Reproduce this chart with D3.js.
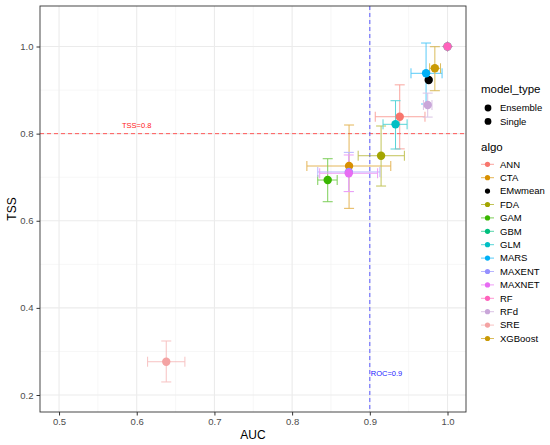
<!DOCTYPE html>
<html><head><meta charset="utf-8">
<script src="https://d3js.org/d3.v7.min.js"></script>
<style>body{margin:0;background:#fff;} svg{display:block;font-family:"Liberation Sans",Arial,Helvetica,sans-serif;}</style>
</head><body><svg id="c" width="550" height="445"></svg>
<script>
const algos = ["ANN","CTA","EMwmean","FDA","GAM","GBM","GLM","MARS","MAXENT","MAXNET","RF","RFd","SRE","XGBoost"];
const colors = ["#F8766D","#D89000","#000000","#A3A500","#39B600","#00BF7D","#00BFC4","#00B0F6","#9590FF","#E76BF3","#FF62BC","#C9A6D9","#F4A3A3","#C99A06"];
const modelType = ["Single","Single","Ensemble","Single","Single","Single","Single","Single","Single","Single","Single","Single","Single","Single"];
const auc   = [0.9385,0.8733,0.9758,0.9145,0.8458,1.0,0.9331,0.9724,0.873,0.8729,1.0,0.9745,0.638,0.9837];
const aucLo = [0.907,0.819,0.9758,0.885,0.833,1.0,0.917,0.953,0.833,0.8355,1.0,0.969,0.614,0.977];
const aucHi = [0.971,0.927,0.9758,0.9445,0.858,1.0,0.948,0.993,0.913,0.910,1.0,0.980,0.662,0.991];
const tss   = [0.8388,0.7257,0.923,0.7493,0.6935,1.0,0.8214,0.9385,0.712,0.709,1.0,0.8657,0.2764,0.950];
const tssLo = [0.765,0.6285,0.923,0.6797,0.6437,1.0,0.7647,0.868,0.667,0.667,1.0,0.838,0.230,0.8985];
const tssHi = [0.912,0.8198,0.923,0.8175,0.7424,1.0,0.8756,1.008,0.757,0.751,1.0,0.893,0.324,0.9995];
const xTicks = [0.5,0.6,0.7,0.8,0.9,1.0];
const xMinor = [0.55,0.65,0.75,0.85,0.95];
const yTicks = [0.2,0.4,0.6,0.8,1.0];
const yMinor = [0.3,0.5,0.7,0.9];
const tssLine = 0.8, rocLine = 0.9;

const svg = d3.select("#c");
const L = 40, R = 466, T = 6, B = 412;
const x = d3.scaleLinear().domain([0.4755, 1.0238]).range([L, R]);
const y = d3.scaleLinear().domain([0.161, 1.093]).range([B, T]);

// grid
const g = svg.append("g");
g.selectAll(".xm").data(xMinor).enter().append("line").attr("x1",d=>x(d)).attr("x2",d=>x(d)).attr("y1",T).attr("y2",B).attr("stroke","#F2F2F2").attr("stroke-width",0.6);
g.selectAll(".ym").data(yMinor).enter().append("line").attr("y1",d=>y(d)).attr("y2",d=>y(d)).attr("x1",L).attr("x2",R).attr("stroke","#F2F2F2").attr("stroke-width",0.6);
g.selectAll(".xM").data(xTicks).enter().append("line").attr("x1",d=>x(d)).attr("x2",d=>x(d)).attr("y1",T).attr("y2",B).attr("stroke","#EBEBEB").attr("stroke-width",1.1);
g.selectAll(".yM").data(yTicks).enter().append("line").attr("y1",d=>y(d)).attr("y2",d=>y(d)).attr("x1",L).attr("x2",R).attr("stroke","#EBEBEB").attr("stroke-width",1.1);

// reference lines
svg.append("line").attr("x1",L).attr("x2",R).attr("y1",y(tssLine)).attr("y2",y(tssLine)).attr("stroke","#FF5A5A").attr("stroke-width",1).attr("stroke-dasharray","4,3");
svg.append("line").attr("x1",x(rocLine)).attr("x2",x(rocLine)).attr("y1",T).attr("y2",B).attr("stroke","#5A5AFF").attr("stroke-width",1).attr("stroke-dasharray","4,3");
svg.append("text").attr("x",x(0.6)).attr("y",y(tssLine)-6).attr("text-anchor","middle").attr("font-size",7.5).attr("fill","#FF1A1A").text("TSS=0.8");
svg.append("text").attr("x",x(rocLine)+1).attr("y",y(0.25)+3).attr("text-anchor","start").attr("font-size",7.5).attr("fill","#1A1AFF").text("ROC=0.9");

const data = algos.map((a,i)=>({a,i,c:colors[i],mt:modelType[i],x:auc[i],xl:aucLo[i],xh:aucHi[i],y:tss[i],yl:tssLo[i],yh:tssHi[i]}));
const singles = data.filter(d=>d.mt==="Single");
const cap = 5;
const eb = svg.append("g").attr("stroke-width",1).attr("opacity",0.65);
singles.forEach(d=>{
  const gg = eb.append("g").attr("stroke",d.c);
  gg.append("line").attr("x1",x(d.x)).attr("x2",x(d.x)).attr("y1",y(d.yl)).attr("y2",y(d.yh));
  gg.append("line").attr("x1",x(d.x)-cap).attr("x2",x(d.x)+cap).attr("y1",y(d.yl)).attr("y2",y(d.yl));
  gg.append("line").attr("x1",x(d.x)-cap).attr("x2",x(d.x)+cap).attr("y1",y(d.yh)).attr("y2",y(d.yh));
  gg.append("line").attr("y1",y(d.y)).attr("y2",y(d.y)).attr("x1",x(d.xl)).attr("x2",x(d.xh));
  gg.append("line").attr("y1",y(d.y)-cap).attr("y2",y(d.y)+cap).attr("x1",x(d.xl)).attr("x2",x(d.xl));
  gg.append("line").attr("y1",y(d.y)-cap).attr("y2",y(d.y)+cap).attr("x1",x(d.xh)).attr("x2",x(d.xh));
});
svg.append("g").selectAll("circle").data(data).enter().append("circle")
  .attr("cx",d=>x(d.x)).attr("cy",d=>y(d.y)).attr("r",4.2).attr("fill",d=>d.c);

// border
svg.append("rect").attr("x",L).attr("y",T).attr("width",R-L).attr("height",B-T).attr("fill","none").attr("stroke","#333").attr("stroke-width",0.9);

// axes
const xa = svg.append("g").attr("transform",`translate(0,${B})`).call(d3.axisBottom(x).tickValues(xTicks).tickFormat(d3.format(".1f")).tickSize(3.5).tickPadding(3));
const ya = svg.append("g").attr("transform",`translate(${L},0)`).call(d3.axisLeft(y).tickValues(yTicks).tickFormat(d3.format(".1f")).tickSize(3.5).tickPadding(3));
[xa,ya].forEach(a=>{a.select(".domain").remove();a.selectAll("line").attr("stroke","#333");a.selectAll("text").attr("fill","#4D4D4D").attr("font-size",9.5).attr("font-family","Liberation Sans,Arial,sans-serif");});
svg.append("text").attr("x",(L+R)/2).attr("y",439).attr("text-anchor","middle").attr("font-size",12).attr("fill","#000").text("AUC");
svg.append("text").attr("transform","translate(16,"+((T+B)/2)+") rotate(-90)").attr("text-anchor","middle").attr("font-size",12).attr("fill","#000").text("TSS");

// legends
const lg = svg.append("g");
lg.append("text").attr("x",481).attr("y",93).attr("font-size",11.5).attr("fill","#000").text("model_type");
["Ensemble","Single"].forEach((t,k)=>{
  const yy = 108 + k*13.4;
  lg.append("circle").attr("cx",488).attr("cy",yy).attr("r",3.4).attr("fill","#000");
  lg.append("text").attr("x",500).attr("y",yy+3.3).attr("font-size",9.5).attr("fill","#000").text(t);
});
lg.append("text").attr("x",481).attr("y",151).attr("font-size",11.5).attr("fill","#000").text("algo");
data.forEach((d,k)=>{
  const yy = 164.3 + k*13.4;
  if(d.mt==="Single"){
    lg.append("line").attr("x1",481).attr("x2",494).attr("y1",yy).attr("y2",yy).attr("stroke",d.c).attr("stroke-width",1).attr("opacity",0.65);
  }
  lg.append("circle").attr("cx",487.5).attr("cy",yy).attr("r",2.6).attr("fill",d.c);
  lg.append("text").attr("x",500).attr("y",yy+3.3).attr("font-size",9.5).attr("fill","#000").text(d.a);
});
</script></body></html>
